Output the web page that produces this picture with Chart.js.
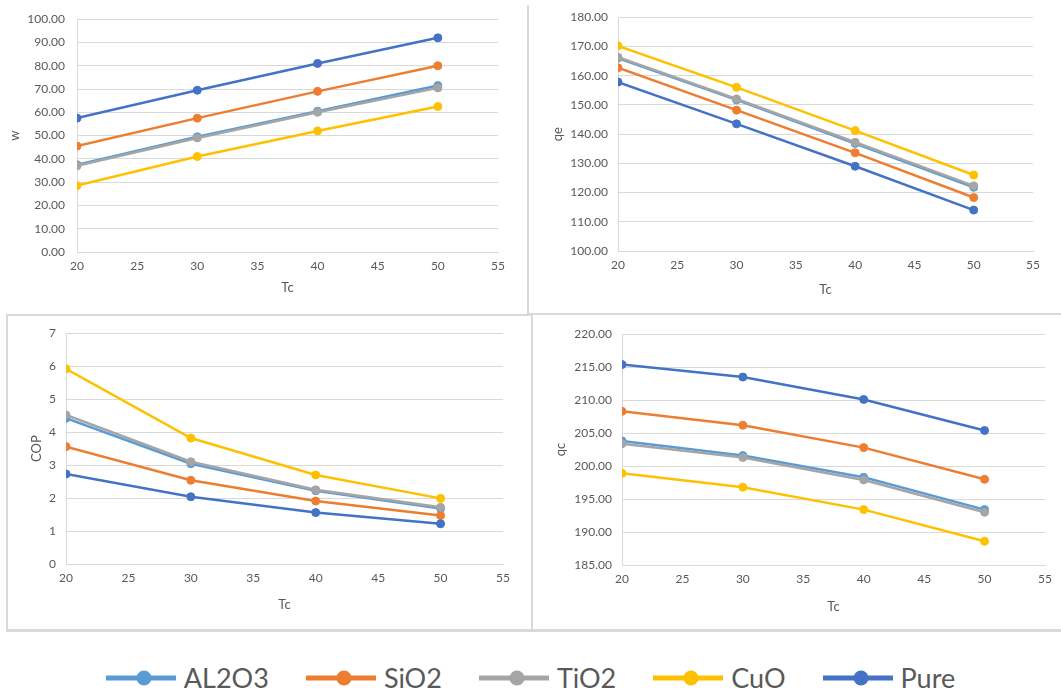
<!DOCTYPE html>
<html>
<head>
<meta charset="utf-8">
<script src="https://cdn.jsdelivr.net/npm/chart.js@4.4.1/dist/chart.umd.min.js"></script>
<style>
  body { margin: 0; background: #fff; width: 1061px; height: 695px; position: relative; overflow: hidden; font-family: Lato, "Open Sans", sans-serif; }
  canvas { position: absolute; }
  .rule { position: absolute; background: #d9d9d9; }
  #legend { position: absolute; left: 0; top: 660px; width: 1061px; height: 36px; display: flex; justify-content: center; align-items: center; gap: 37px; }
  .item { display: flex; align-items: center; flex: none; }
  .item svg { flex: none; display: block; }
  .item span { margin-left: 8px; font-size: 27px; line-height: 34px; color: #595959; white-space: nowrap; }
</style>
</head>
<body>
<div class="rule" style="left:527px;top:5px;width:2px;height:309px"></div>
<div class="rule" style="left:528px;top:313px;width:533px;height:2px"></div>
<div class="rule" style="left:6px;top:314px;width:526px;height:2px"></div>
<div class="rule" style="left:6px;top:314px;width:2px;height:317px"></div>
<div class="rule" style="left:531px;top:315px;width:2px;height:316px"></div>
<div class="rule" style="left:6px;top:629px;width:1055px;height:3px"></div>

<canvas id="cW" width="527" height="313" style="left:0;top:0"></canvas>
<canvas id="cQe" width="530" height="313" style="left:531px;top:0"></canvas>
<canvas id="cCop" width="522" height="312" style="left:8px;top:316px"></canvas>
<canvas id="cQc" width="527" height="312" style="left:533px;top:317px"></canvas>

<div id="legend"></div>

<script>
// Condenser temperature (x values)
const tc = [20, 30, 40, 50];
const seriesNames = ['AL2O3', 'SiO2', 'TiO2', 'CuO', 'Pure'];
const seriesColors = ['#5B9BD5', '#ED7D31', '#A5A5A5', '#FFC000', '#4472C4'];

// w
const wAl2o3 = [37.5, 49.5, 60.5, 71.5];
const wSio2 = [45.5, 57.5, 69.0, 80.0];
const wTio2 = [37.0, 49.0, 60.0, 70.5];
const wCuo = [28.5, 41.0, 52.0, 62.5];
const wPure = [57.5, 69.5, 81.0, 92.0];

// qe
const qeAl2o3 = [166.0, 151.7, 136.8, 121.8];
const qeSio2 = [162.7, 148.2, 133.6, 118.3];
const qeTio2 = [166.3, 152.0, 137.2, 122.3];
const qeCuo = [170.2, 156.0, 141.2, 126.0];
const qePure = [157.8, 143.5, 129.0, 114.0];

// COP
const copAl2o3 = [4.42, 3.04, 2.22, 1.68];
const copSio2 = [3.56, 2.54, 1.91, 1.47];
const copTio2 = [4.52, 3.10, 2.25, 1.72];
const copCuo = [5.92, 3.82, 2.70, 1.99];
const copPure = [2.73, 2.04, 1.56, 1.22];

// qc
const qcAl2o3 = [203.8, 201.6, 198.3, 193.4];
const qcSio2 = [208.3, 206.2, 202.8, 198.0];
const qcTio2 = [203.4, 201.3, 197.9, 193.0];
const qcCuo = [198.9, 196.8, 193.4, 188.6];
const qcPure = [215.4, 213.5, 210.1, 205.4];

const tickColor = '#595959';
const gridColor = '#d9d9d9';
const tickFont = { family: 'Lato', size: 12 };

function buildDatasets(lists) {
    return lists.map((vals, i) => ({
        label: seriesNames[i],
        data: vals.map((v, k) => ({ x: tc[k], y: v })),
        borderColor: seriesColors[i],
        backgroundColor: seriesColors[i],
        borderWidth: 2.5,
        pointRadius: 4,
        pointBorderWidth: 1,
        fill: false,
        tension: 0,
        order: lists.length - i // later series drawn on top, like Excel
    }));
}

// area: wanted plot area inside the canvas
function drawPanel(canvasId, lists, yTitle, yMin, yMax, yStep, decimals, area) {
    const ctx = document.getElementById(canvasId).getContext('2d');
    const cnv = ctx.canvas;
    return new Chart(ctx, {
        type: 'line',
        data: { datasets: buildDatasets(lists) },
        options: {
            responsive: false,
            animation: false,
            layout: { padding: { left: 0, top: area.top, right: cnv.width - area.right, bottom: 0 } },
            plugins: { legend: { display: false }, tooltip: { enabled: false } },
            scales: {
                x: {
                    type: 'linear',
                    min: 20, max: 55,
                    ticks: { stepSize: 5, color: tickColor, font: tickFont, padding: 7 },
                    grid: { display: false, drawTicks: false },
                    border: { display: true, color: gridColor, width: 1 },
                    title: { display: true, text: 'Tc', color: tickColor, font: { family: 'Lato', size: 13 }, padding: { top: 0, bottom: area.titleB } },
                    afterFit: s => { s.height = cnv.height - area.bottom; }
                },
                y: {
                    min: yMin, max: yMax,
                    ticks: {
                        stepSize: yStep, color: tickColor, font: tickFont, padding: area.tickPad,
                        callback: v => v.toFixed(decimals)
                    },
                    grid: { color: gridColor, drawTicks: false },
                    border: { display: true, color: gridColor, width: 1 },
                    title: { display: true, text: yTitle, color: tickColor, font: { family: 'Lato', size: 13 }, padding: { top: area.titleL, bottom: 0 } },
                    afterFit: s => { s.width = area.left; }
                }
            }
        }
    });
}

drawPanel('cW', [wAl2o3, wSio2, wTio2, wCuo, wPure], 'w', 0, 100, 10, 2,
    { left: 77, top: 17, right: 498, bottom: 252, tickPad: 12, titleL: 7, titleB: 17 });
drawPanel('cQe', [qeAl2o3, qeSio2, qeTio2, qeCuo, qePure], 'qe', 100, 180, 10, 2,
    { left: 87, top: 17, right: 502, bottom: 251, tickPad: 10, titleL: 19, titleB: 15 });
drawPanel('cCop', [copAl2o3, copSio2, copTio2, copCuo, copPure], 'COP', 0, 7, 1, 0,
    { left: 58, top: 15, right: 495, bottom: 248, tickPad: 10, titleL: 21, titleB: 15 });
drawPanel('cQc', [qcAl2o3, qcSio2, qcTio2, qcCuo, qcPure], 'qc', 185, 220, 5, 2,
    { left: 89, top: 15, right: 512, bottom: 248, tickPad: 10, titleL: 20, titleB: 14 });

// Legend, drawn the way Excel shows line-with-marker entries
const legendBox = document.getElementById('legend');
seriesNames.forEach((name, i) => {
    const item = document.createElement('div');
    item.className = 'item';
    item.innerHTML =
        `<svg width="70" height="20"><line x1="0" y1="10" x2="70" y2="10" stroke="${seriesColors[i]}" stroke-width="5"/>` +
        `<circle cx="38" cy="10" r="7.5" fill="${seriesColors[i]}"/></svg><span>${name}</span>`;
    legendBox.appendChild(item);
});
</script>
</body>
</html>
